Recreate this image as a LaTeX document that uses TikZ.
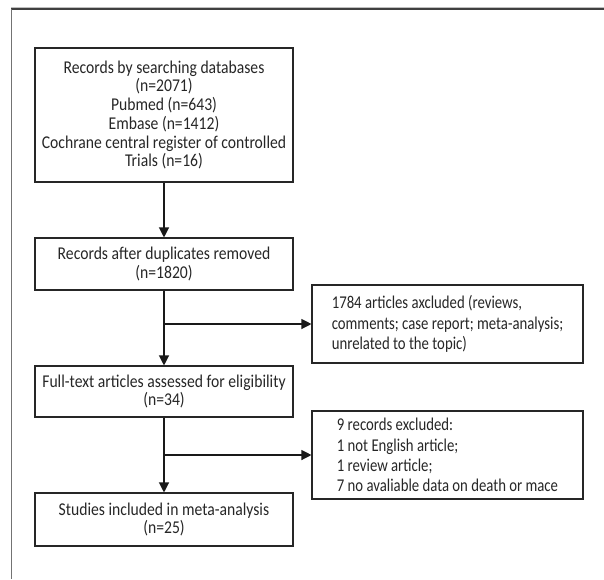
\documentclass[tikz,border=0pt]{standalone}
\usepackage{fontspec}
\setmainfont{Carlito}[FakeStretch=0.87]
\newfontfamily\exfont{Carlito}[FakeStretch=0.82]
\usetikzlibrary{arrows.meta}
\begin{document}
\begin{tikzpicture}[x=1pt,y=-1pt,
  box/.style={draw=black!85, line width=1.1pt, inner sep=0pt, align=center,
    font=\fontsize{18}{18.7}\selectfont, text=black!85},
  exbox/.style={box, align=left, minimum width=271pt, font=\exfont\fontsize{18}{20.3}\selectfont},
  mainbox/.style={box, minimum width=258pt},
  arr/.style={draw=black!90, line width=1.2pt, -{Triangle[length=10pt,width=10pt]}}]
\useasboundingbox (0,0) rectangle (604,579);
% frame
\draw[black!25, line width=0.8pt] (11,7.5) -- (604,7.5);
\draw[black!75, line width=1.3pt] (11,9) -- (604,9);
\draw[black!55, line width=1pt] (11,9) -- (11,579);
% main column
\node[mainbox, minimum height=134pt] (b1) at (164,115) {Records by searching databases\\(n=2071)\\Pubmed (n=643)\\Embase (n=1412)\\Cochrane central register of controlled\\Trials (n=16)};
\node[mainbox, minimum height=52pt] (b2) at (164,264) {Records after duplicates removed\\(n=1820)};
\node[mainbox, minimum height=51pt] (b3) at (164,391.5) {Full-text articles assessed for eligibility\\(n=34)};
\node[mainbox, minimum height=53pt] (b4) at (164,519.5) {Studies included in meta-analysis\\(n=25)};
% exclusion boxes
\node[exbox, minimum height=78pt] (e1) at (447.5,324) {1784 articles axcluded (reviews,\\comments; case report; meta-analysis;\\unrelated to the topic)};
\node[exbox, minimum height=88pt] (e2) at (447.5,455) {9 records excluded:\\1 not English article;\\1 review article;\\7 no avaliable data on death or mace};
% connectors
\draw[arr] (b1) -- (b2);
\draw[arr] (b2) -- (b3);
\draw[arr] (b3) -- (b4);
\draw[arr] (b2.south |- e1.west) -- (e1.west);
\draw[arr] (b3.south |- e2.west) -- (e2.west);
\end{tikzpicture}
\end{document}
